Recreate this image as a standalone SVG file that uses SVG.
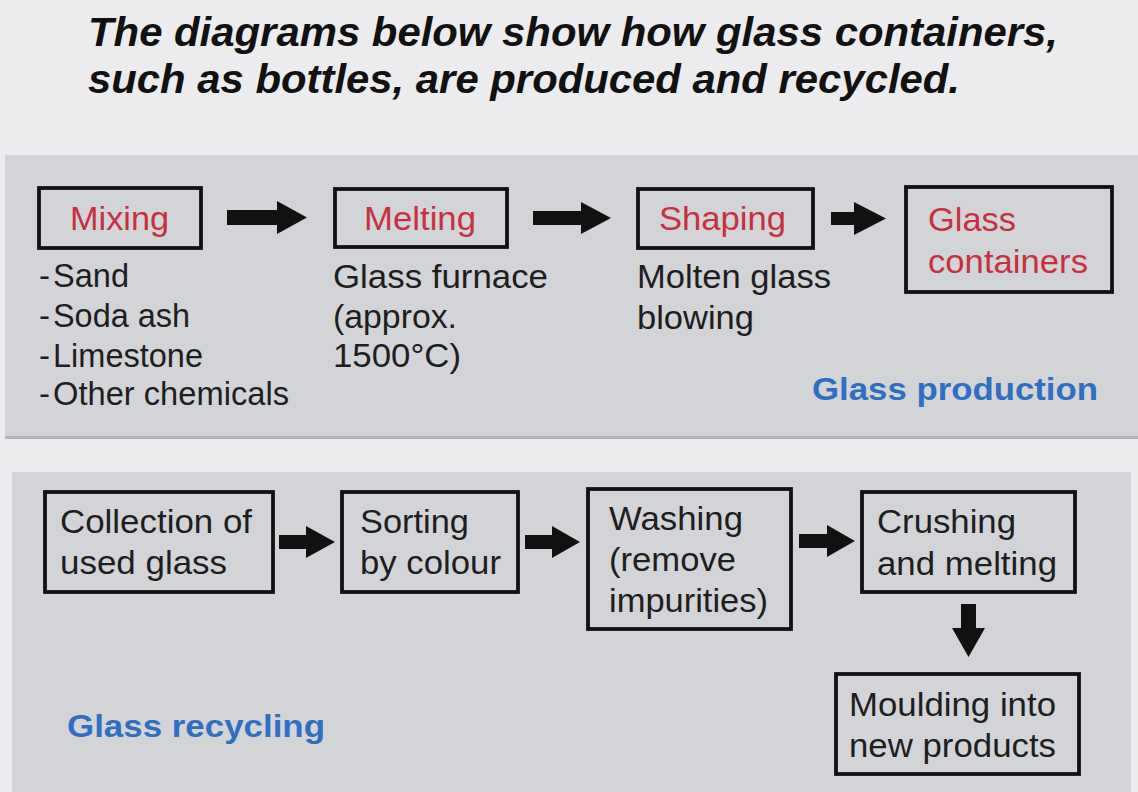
<svg xmlns="http://www.w3.org/2000/svg" width="1138" height="792" viewBox="0 0 1138 792">
  <style>
    .title { font-family: "Liberation Sans", Arial, sans-serif; font-size: 41px; font-weight: bold; font-style: italic; fill: #111; }
    .t { font-family: "Liberation Sans", Arial, sans-serif; font-size: 33px; fill: #1e1e1e; }
    .red { fill: #c8303f; }
    .blue { font-family: "Liberation Sans", Arial, sans-serif; font-size: 32px; font-weight: bold; fill: #2f6fc2; }
    .box { fill: none; stroke: #111; stroke-width: 3.8; }
    .panel { fill: #d3d4d8; }
    .shadow { fill: #b4b4b8; }
    .arrow { fill: #111; }
  </style>
  <rect x="0" y="0" width="1138" height="792" fill="#ecebee"/>

  <g id="title">
    <text class="title" x="88" y="46" textLength="970" lengthAdjust="spacingAndGlyphs">The diagrams below show how glass containers,</text>
    <text class="title" x="88" y="93" textLength="872" lengthAdjust="spacingAndGlyphs">such as bottles, are produced and recycled.</text>
  </g>

  <g id="panel-production">
    <rect class="shadow" x="5" y="155" width="1133" height="284"/>
    <rect class="panel" x="5" y="155" width="1133" height="281"/>
    <text class="blue" x="812" y="400" textLength="286" lengthAdjust="spacingAndGlyphs">Glass production</text>
  </g>

  <g id="panel-recycling">
    <rect class="panel" x="12" y="472" width="1119" height="320"/>
    <text class="blue" x="67" y="737" textLength="258" lengthAdjust="spacingAndGlyphs">Glass recycling</text>
  </g>

  <g id="mixing">
    <rect class="box" x="39" y="188" width="162" height="60"/>
    <text class="t red" x="70" y="230" textLength="99" lengthAdjust="spacingAndGlyphs">Mixing</text>
    <text class="t" x="39" y="287">-</text>
    <text class="t" x="53" y="287" textLength="76" lengthAdjust="spacingAndGlyphs">Sand</text>
    <text class="t" x="39" y="327">-</text>
    <text class="t" x="53" y="327" textLength="137" lengthAdjust="spacingAndGlyphs">Soda ash</text>
    <text class="t" x="39" y="367">-</text>
    <text class="t" x="53" y="367" textLength="150" lengthAdjust="spacingAndGlyphs">Limestone</text>
    <text class="t" x="39" y="405">-</text>
    <text class="t" x="53" y="405" textLength="236" lengthAdjust="spacingAndGlyphs">Other chemicals</text>
  </g>

  <g id="melting">
    <rect class="box" x="335" y="189" width="172" height="58"/>
    <text class="t red" x="364" y="230" textLength="112" lengthAdjust="spacingAndGlyphs">Melting</text>
    <text class="t" x="333" y="288" textLength="215" lengthAdjust="spacingAndGlyphs">Glass furnace</text>
    <text class="t" x="333" y="328" textLength="124" lengthAdjust="spacingAndGlyphs">(approx.</text>
    <text class="t" x="333" y="367" textLength="128" lengthAdjust="spacingAndGlyphs">1500°C)</text>
  </g>

  <g id="shaping">
    <rect class="box" x="638" y="189" width="175" height="59"/>
    <text class="t red" x="659" y="230" textLength="127" lengthAdjust="spacingAndGlyphs">Shaping</text>
    <text class="t" x="637" y="288" textLength="194" lengthAdjust="spacingAndGlyphs">Molten glass</text>
    <text class="t" x="637" y="329" textLength="117" lengthAdjust="spacingAndGlyphs">blowing</text>
  </g>

  <g id="glass-containers">
    <rect class="box" x="906" y="187" width="206" height="105"/>
    <text class="t red" x="928" y="231" textLength="88" lengthAdjust="spacingAndGlyphs">Glass</text>
    <text class="t red" x="928" y="273" textLength="160" lengthAdjust="spacingAndGlyphs">containers</text>
  </g>

  <g id="collection">
    <rect class="box" x="45" y="492" width="228" height="100"/>
    <text class="t" x="60" y="533" textLength="192" lengthAdjust="spacingAndGlyphs">Collection of</text>
    <text class="t" x="60" y="574" textLength="167" lengthAdjust="spacingAndGlyphs">used glass</text>
  </g>

  <g id="sorting">
    <rect class="box" x="342" y="492" width="176" height="100"/>
    <text class="t" x="360" y="533" textLength="109" lengthAdjust="spacingAndGlyphs">Sorting</text>
    <text class="t" x="360" y="574" textLength="141" lengthAdjust="spacingAndGlyphs">by colour</text>
  </g>

  <g id="washing">
    <rect class="box" x="588" y="489" width="203" height="140"/>
    <text class="t" x="609" y="530" textLength="134" lengthAdjust="spacingAndGlyphs">Washing</text>
    <text class="t" x="609" y="571" textLength="127" lengthAdjust="spacingAndGlyphs">(remove</text>
    <text class="t" x="609" y="612" textLength="159" lengthAdjust="spacingAndGlyphs">impurities)</text>
  </g>

  <g id="crushing">
    <rect class="box" x="862" y="492" width="213" height="100"/>
    <text class="t" x="877" y="533" textLength="139" lengthAdjust="spacingAndGlyphs">Crushing</text>
    <text class="t" x="877" y="575" textLength="180" lengthAdjust="spacingAndGlyphs">and melting</text>
  </g>

  <g id="moulding">
    <rect class="box" x="836" y="674" width="243" height="100"/>
    <text class="t" x="849" y="716" textLength="207" lengthAdjust="spacingAndGlyphs">Moulding into</text>
    <text class="t" x="849" y="757" textLength="207" lengthAdjust="spacingAndGlyphs">new products</text>
  </g>

  <g id="connectors">
    <path class="arrow" d="M227 210 H277 V201 L307 217.5 L277 234 V225 H227 Z"/>
    <path class="arrow" d="M533 211 H581 V202 L611 218 L581 234 V225 H533 Z"/>
    <path class="arrow" d="M831 212 H854 V202 L886 218.5 L854 235 V225 H831 Z"/>
    <path class="arrow" d="M279 535 H306 V526 L335 542 L306 558 V549 H279 Z"/>
    <path class="arrow" d="M525 535 H552 V526 L580 542 L552 558 V549 H525 Z"/>
    <path class="arrow" d="M799 534 H827 V525 L855 541 L827 557 V548 H799 Z"/>
    <path class="arrow" d="M961 604 H976 V628 H985 L968.5 657 L952 628 H961 Z"/>
  </g>
</svg>
